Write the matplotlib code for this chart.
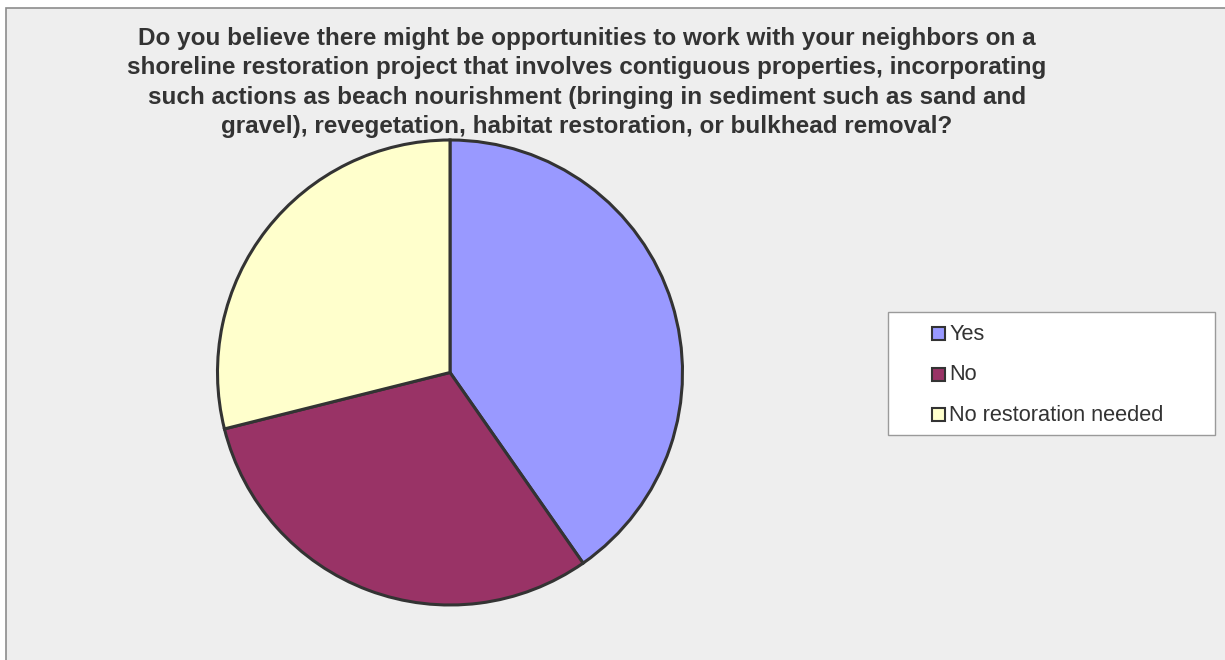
import matplotlib
matplotlib.use("Agg")
import matplotlib.pyplot as plt
from matplotlib.patches import Rectangle

# Survey responses (share of respondents, %)
categories = ["Yes", "No", "No restoration needed"]
shares = [40.3, 30.8, 28.9]
colors = ["#9999FF", "#993366", "#FFFFCC"]

title_lines = [
    "Do you believe there might be opportunities to work with your neighbors on a",
    "shoreline restoration project that involves contiguous properties, incorporating",
    "such actions as beach nourishment (bringing in sediment such as sand and",
    "gravel), revegetation, habitat restoration, or bulkhead removal?",
]

W, H = 1225, 660
TEXT = "#333333"
plt.rcParams["font.family"] = ["Liberation Sans", "DejaVu Sans"]
fig = plt.figure(figsize=(W / 100, H / 100), dpi=100, facecolor="white")


def fx(px):
    return px / W


def fy(py):
    # pixel row measured from the top -> figure fraction
    return 1 - py / H


# Chart area background with frame
fig.patches.append(Rectangle((fx(6), -0.05), 1.1, fy(8) + 0.05, transform=fig.transFigure,
                             facecolor="#EEEEEE", edgecolor="#8C8C8C", linewidth=1.2,
                             zorder=-10))

# Pie placement (pixels)
cx, cy, r = 450, 372.5, 232.5
ax = fig.add_axes([fx(cx - r), fy(cy + r), 2 * r / W, 2 * r / H])
ax.set_zorder(2)
ax.set_facecolor("none")
wedges, _ = ax.pie(shares, colors=colors, startangle=90, counterclock=False, radius=1,
                   wedgeprops=dict(edgecolor="#333333", linewidth=2.2))
ax.set_xlim(-1, 1)
ax.set_ylim(-1, 1)
ax.set_aspect("equal")
ax.axis("off")

# Title, one line per baseline
for i, line in enumerate(title_lines):
    fig.text(fx(587), fy(45 + 29.4 * i), line, ha="center", va="baseline",
             fontsize=17.5, color=TEXT, fontweight="bold", zorder=3)

# Legend box with swatches
fig.patches.append(Rectangle((fx(888), fy(435)), (1215 - 888) / W, (435 - 311.5) / H,
                             transform=fig.transFigure, facecolor="white",
                             edgecolor="#9A9A9A", linewidth=1.0, zorder=3))
for i, (label, c) in enumerate(zip(categories, colors)):
    base = 340 + 40.5 * i
    fig.patches.append(Rectangle((fx(932), fy(base)), 13 / W, 13 / H,
                                 transform=fig.transFigure, facecolor=c,
                                 edgecolor="#333333", linewidth=1.5, zorder=4))
    fig.text(fx(949), fy(base), label, ha="left", va="baseline", fontsize=15.7,
             color=TEXT, zorder=5)

fig.savefig("out.png", dpi=100, facecolor="white")
